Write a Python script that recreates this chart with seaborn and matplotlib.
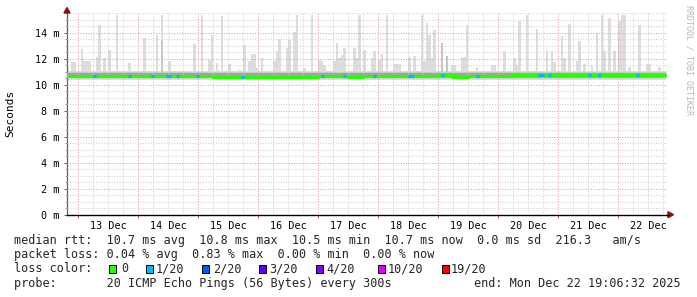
import numpy as np
import pandas as pd
import matplotlib
matplotlib.use("Agg")
import matplotlib.pyplot as plt
from matplotlib.patches import Rectangle
import seaborn as sns

# ---------------- data ----------------
# hours relative to 13 Dec 00:00, one RRD step per hour
hours = list(range(-5, 236))
smoke_base_top = 11.08          # upper edge of the everyday smoke (ms)
smoke_low = 10.38               # lower edge of the smoke (ms)

spike_hours = [-3, -2, 1, 2, 3, 4, 7, 8, 10, 12, 15, 20, 26, 31, 33, 36, 46, 49, 52, 53,
               55, 57, 60, 64, 66, 68, 69, 70, 71, 73, 78, 79, 80, 83, 84, 86, 87, 90, 93,
               96, 97, 98, 102, 103, 104, 105, 106, 110, 111, 112, 114, 117, 118, 120, 121,
               123, 126, 127, 128, 132, 134, 137, 138, 139, 140, 141, 142, 145, 147, 149,
               150, 153, 154, 155, 159, 165, 166, 170, 174, 175, 176, 179, 183, 187, 189,
               190, 193, 194, 196, 199, 200, 202, 205, 207, 209, 210, 212, 214, 216, 217,
               218, 220, 224, 227, 228, 232]
spike_tops = [11.75, 11.75, 12.75, 11.85, 11.85, 11.85, 12.11, 14.62, 12.05, 12.69, 15.39,
              11.67, 13.59, 13.85, 15.39, 11.80, 13.13, 15.39, 11.93, 13.85,
              11.67, 15.26, 11.59, 11.16, 13.08, 11.80, 12.36, 12.36, 11.28, 12.05, 11.85,
              12.57, 13.54, 12.82, 13.46, 14.03, 15.39, 11.28, 15.39,
              11.93, 11.80, 11.54, 11.80, 13.21, 12.05, 12.31, 12.82, 12.82, 12.05, 15.39,
              12.69, 12.05, 12.62, 11.93, 12.36,
              15.39, 11.59, 11.59, 11.59, 12.11, 12.18, 15.39, 11.80, 14.75, 13.85, 12.05,
              14.23, 13.21, 12.18, 11.54,
              11.54, 12.11, 12.11, 14.57, 11.34, 11.54, 11.54, 12.62, 12.05, 11.54, 14.87,
              15.39, 14.31, 12.62, 12.62,
              11.75, 13.72, 12.05, 14.67, 11.85, 13.34, 11.59, 11.41, 13.98, 15.39, 12.57,
              15.13, 12.62, 14.87, 15.39,
              15.39, 11.34, 14.57, 11.59, 11.59, 11.34]

dark_spike_hours = [33, 145, 147]
dark_spike_tops = [13.46, 13.21, 12.18]

mid_smoke = (10.50, 11.00)      # medium grey smoke band
dark_smoke = (10.55, 10.87)     # darkest smoke band

median_hours = list(range(-6, 235, 6))
median_ms = [10.70, 10.70, 10.70, 10.70, 10.71, 10.70, 10.70, 10.71, 10.70, 10.68,
             10.63, 10.61, 10.62, 10.63, 10.63, 10.59, 10.59, 10.64, 10.64, 10.63,
             10.64, 10.64, 10.64, 10.64, 10.65, 10.72, 10.62, 10.69, 10.70, 10.70,
             10.72, 10.74, 10.74, 10.74, 10.74, 10.74, 10.74, 10.74, 10.74, 10.74, 10.74]

loss_hours = [6, 20, 29, 35, 36, 39, 47, 65, 97, 106, 118, 132, 133, 145, 159,
              184, 185, 188, 204, 208, 223]

y_ticks = [0, 2, 4, 6, 8, 10, 12, 14]
day_labels = ["13 Dec", "14 Dec", "15 Dec", "16 Dec", "17 Dec",
              "18 Dec", "19 Dec", "20 Dec", "21 Dec", "22 Dec"]

loss_levels = ["0", "1/20", "2/20", "3/20", "4/20", "10/20", "19/20"]
loss_colors = ["#26ff00", "#00b8ff", "#0059ff", "#5e00ff", "#7e00ff", "#dd00ff", "#ff0000"]

rtt_stats = [("avg", 10.7), ("max", 10.8), ("min", 10.5), ("now", 10.7)]
rtt_sd = 0.0
rtt_amps = 216.3
loss_stats = [("avg", 0.04), ("max", 0.83), ("min", 0.00), ("now", 0.00)]
probe_text = "20 ICMP Echo Pings (56 Bytes) every 300s"
end_text = "end: Mon Dec 22 19:06:32 2025"

# ---------------- drawing ----------------
sns.set_theme(style="white")
MONO = "DejaVu Sans Mono"
plt.rcParams["font.family"] = [MONO]

W, H = 697, 297
fig = plt.figure(figsize=(W / 100, H / 100), dpi=100, facecolor="white")
ax_left, ax_right, ax_bottom, ax_top = 67, 667, 214.7, 13
ax = fig.add_axes([ax_left / W, 1 - ax_bottom / H, (ax_right - ax_left) / W,
                   (ax_bottom - ax_top) / H])
ax.set_facecolor("white")
xmin, xmax = -4.4, 235.6
ymin, ymax = 0, 15.52
ax.set_xlim(xmin, xmax)
ax.set_ylim(ymin, ymax)

smoke_max = pd.Series(smoke_base_top, index=hours, dtype=float)
smoke_max.loc[spike_hours] = spike_tops
dark_max = pd.Series(mid_smoke[1], index=hours, dtype=float)
dark_max.loc[dark_spike_hours] = dark_spike_tops

xs = np.array(hours + [hours[-1] + 1], dtype=float)
ys = np.append(smoke_max.values, smoke_max.values[-1])
yd = np.append(dark_max.values, dark_max.values[-1])
end_h = 235.1
xs = np.minimum(xs, end_h)

ax.fill_between(xs, smoke_low, ys, step="post", color="#dddddd", lw=0, zorder=1)
ax.fill_between(xs, mid_smoke[0], yd, step="post", color="#c6c6c6", lw=0, zorder=2)
ax.fill_between(xs, dark_smoke[0], dark_smoke[1], step="post", color="#a3a3a3", lw=0, zorder=3)

# grid (drawn over the smoke, like rrdtool)
minor_c, major_c = "#d2d2d2", "#e3a3a3"
for v in np.arange(0.5, ymax, 0.5):
    if abs(v % 2) > 1e-6:
        ax.axhline(v, color=minor_c, lw=0.75, ls=(0, (1, 1.5)), zorder=4)
for v in np.arange(-6, xmax, 6):
    if v % 24 != 0 and v > xmin:
        ax.axvline(v, color=minor_c, lw=0.75, ls=(0, (1, 1.5)), zorder=4)
for v in y_ticks[1:]:
    ax.axhline(v, color=major_c, lw=0.75, ls=(0, (1, 1.5)), zorder=4)
for v in range(0, 235, 24):
    ax.axvline(v, color=major_c, lw=0.75, ls=(0, (1, 1.5)), zorder=4)

# median line, coloured by loss
med = pd.DataFrame({"hour": median_hours + [end_h],
                    "ms": median_ms + [median_ms[-1]]})
med["hour"] = med["hour"].clip(lower=-5)
sns.lineplot(data=med, x="hour", y="ms", drawstyle="steps-post", color=loss_colors[0],
             lw=2.3, ax=ax, zorder=6, legend=False)
for hh in loss_hours:
    val = median_ms[(hh + 6) // 6]
    ax.hlines(val, hh, hh + 1.2, color=loss_colors[1], lw=2.3, zorder=7)

# axes styling
for s in ["top", "right"]:
    ax.spines[s].set_visible(False)
ax.spines["left"].set_color("#606060")
ax.spines["left"].set_linewidth(0.9)
ax.spines["bottom"].set_color("black")
ax.spines["bottom"].set_linewidth(1.0)
ax.set_xlabel("")
ax.set_ylabel("")

ax.set_yticks(y_ticks)
ax.set_yticklabels([f"{v} m" for v in y_ticks])
ax.set_yticks(np.arange(0.5, ymax, 0.5), minor=True)
ax.tick_params(axis="y", which="major", length=2.5, width=0.7, color="#606060",
               labelsize=7.3, pad=3, labelcolor="black", left=True)
ax.tick_params(axis="y", which="minor", length=1.5, width=0.6, color="#909090", left=True)

ax.set_xticks([12 + 24 * i for i in range(len(day_labels))])
ax.set_xticklabels(day_labels)
ax.set_xticks([d for d in range(0, 235, 24)], minor=True)
ax.tick_params(axis="x", which="major", length=0, labelsize=7.3, pad=4.5, labelcolor="black")
ax.tick_params(axis="x", which="minor", length=2.5, width=0.7, color="#c06060", bottom=True)
ax.set_xlabel("")

# arrows at the ends of the axes
arrow_c = "#8b1010"
fig.patches.append(plt.Polygon([[(67 - 3) / W, 1 - 13 / H], [(67 + 3) / W, 1 - 13 / H],
                                [67 / W, 1 - 7.5 / H]], closed=True,
                               transform=fig.transFigure, color=arrow_c))
fig.patches.append(plt.Polygon([[668 / W, 1 - (214.7 - 3) / H], [668 / W, 1 - (214.7 + 3) / H],
                                [673.5 / W, 1 - 214.7 / H]], closed=True,
                               transform=fig.transFigure, color=arrow_c))
fig.lines.append(plt.Line2D([667 / W, 669 / W], [1 - 214.7 / H, 1 - 214.7 / H],
                            transform=fig.transFigure, color="black", lw=1.0))

# axis title and watermark
fig.text(10.5 / W, 1 - 113 / H, "Seconds", rotation=90, ha="center", va="center",
         fontsize=8.0, family=MONO, color="black")
fig.text(689 / W, 1 - 60 / H, "RRDTOOL / TOBI OETIKER", rotation=270, ha="center",
         va="center", fontsize=6.0, family=MONO, color="#b8b8b8")

# legend block
lfs = 8.5
x0 = 14.5 / W
base = [244.3, 258.4, 272.5, 286.6]
line1 = "median rtt:  " + "  ".join(f"{v:.1f} ms {k}" for k, v in rtt_stats) + \
        f"  {rtt_sd:.1f} ms sd  {rtt_amps:.1f}   am/s"
line2 = "packet loss: " + "  ".join(f"{v:.2f} % {k}" for k, v in loss_stats)
line4 = f"probe:       {probe_text}"
for txt, b in [(line1, base[0]), (line2, base[1]), (line4, base[3])]:
    fig.text(x0, 1 - b / H, txt, fontsize=lfs, family=MONO, ha="left", va="baseline")
fig.text(680.5 / W, 1 - base[3] / H, end_text, fontsize=lfs, family=MONO,
         ha="right", va="baseline")
fig.text(x0, 1 - base[2] / H, "loss color:", fontsize=lfs, family=MONO, ha="left",
         va="baseline")
box_x = [109, 146, 202, 259, 316, 378, 442]
text_x = [121, 156, 213, 269, 326, 388, 451]
for bx, tx, lab, col in zip(box_x, text_x, loss_levels, loss_colors):
    fig.patches.append(Rectangle((bx / W, 1 - (base[2]) / H), 7 / W, 7.5 / H,
                                 transform=fig.transFigure, facecolor=col,
                                 edgecolor="black", lw=0.7))
    fig.text(tx / W, 1 - base[2] / H, lab, fontsize=lfs, family=MONO, ha="left",
             va="baseline")

fig.savefig("out.png", dpi=100, facecolor="white")
